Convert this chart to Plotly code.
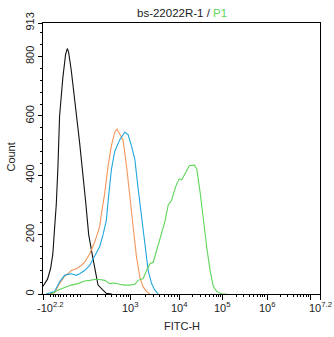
import numpy as np
import plotly.graph_objects as go

# ---- data (FITC-H intensity, event count) ----
black_x = [-158.5, -123.7, -100.5, -82.8, -69.6, -56.5, -44.1, -30.9, -5.4, 11.8, 21.8, 29.4, 45.3, 74.7, 94.1,
           130.3, 148.5, 174.5, 208, 264, 311, 402]
black_y = [26, 50, 85, 135, 220, 300, 420, 599, 730, 807, 827, 815, 752, 609, 509, 311, 200, 119, 30, 13, 2, 0]

orange_x = [-133.8, -69.6, -30.9, 5.9, 25.3, 45.3, 74.7, 104.2, 124.2, 154.5, 184.8, 200, 225.6, 244.8, 264.4,
            286.8, 335.9, 395, 463, 517, 569, 638, 691, 813, 953, 1116, 1313, 1535, 1798, 2114, 2473]
orange_y = [0, 4, 35, 60, 68, 79, 85, 96, 107, 135, 175, 200, 228, 270, 300, 340, 430, 500, 545, 556, 543, 526,
            518, 432, 322, 212, 123, 57, 24, 8, 0]

blue_x = [-133.8, -69.6, -30.9, 5.9, 25.3, 45.3, 58.8, 74.7, 94.1, 124.2, 154.5, 184.8, 225.6, 264.4, 311,
          335.9, 395, 463, 589.5, 749, 877, 1034, 1210, 1416, 1665, 1950, 2282, 2683, 3141, 3675]
blue_y = [0, 8, 41, 63, 66, 68, 66, 63, 68, 79, 96, 130, 160, 200, 250, 310, 420, 480, 520, 545, 537, 498, 454,
          355, 256, 156, 79, 35, 13, 0]

green_x = [-95.1, -44.1, 5.9, 45.3, 84.1, 124.2, 154.5, 184.8, 225.6, 286.8, 364.7, 463, 589.5, 749, 953, 1210,
           1416, 1798, 2114, 2473, 2897, 3403, 4324, 5063, 5919, 6962, 7770, 8834, 10000, 11357, 13523, 16997,
           22160, 25170, 29990, 35730, 42770, 50950, 60700, 72700, 94830, 123300]
green_y = [0, 13, 22, 30, 35, 44, 46, 49, 49, 46, 35, 37, 33, 30, 30, 33, 46, 52, 79, 102, 107, 146, 201, 245,
           300, 316, 344, 371, 388, 385, 405, 432, 434, 421, 344, 245, 156, 79, 24, 8, 0, 0]

series_names = ["Isotype", "Control", "Blue", "P1"]
series_colors = ["#111111", "#F4965A", "#22A6DC", "#5FD65A"]

x_major_vals = [-10 ** 2.2, 1e3, 1e4, 1e5, 1e6, 1e7, 10 ** 7.2]
x_major_text = ["-10<sup>2.2</sup>", "10<sup>3</sup>", "10<sup>4</sup>", "10<sup>5</sup>",
                "10<sup>6</sup>", "10<sup>7.2</sup>"]
x_label_vals = [-10 ** 2.2, 1e3, 1e4, 1e5, 1e6, 10 ** 7.2]
y_major = [0, 200, 400, 600, 800, 913]


# ---- biexponential-like display scale (linear near zero, log above) ----
def biex(v):
    v = np.asarray(v, dtype=float)
    lin_v = [-10 ** 2.2, 0, 100, 200]
    lin_f = [0.0, 0.0743, 0.1359, 0.1957]
    log_v = [np.log10(200), 3, 4, 5, 6, 7, 7.2]
    log_f = [0.1957, 0.3170, 0.4920, 0.6493, 0.8087, 0.9656, 1.0]
    lo = np.interp(v, lin_v, lin_f)
    hi = np.interp(np.log10(np.maximum(v, 200)), log_v, log_f)
    return np.where(v <= 200, lo, hi)


minor_vals = [-100, -80, -60, -40, -20, 0, 20, 40, 60, 80]
minor_vals += [m * 100 for m in range(1, 10)]
for k in range(3, 7):
    minor_vals += [m * 10 ** k for m in range(2, 10)]

fig = go.Figure()
for xs, ys, name, col in zip([black_x, orange_x, blue_x, green_x], [black_y, orange_y, blue_y, green_y],
                             series_names, series_colors):
    fig.add_trace(go.Scatter(x=biex(xs), y=ys, mode="lines", name=name,
                             line=dict(color=col, width=1.1), showlegend=False, hoverinfo="skip"))

font_family = "Arial, Liberation Sans, sans-serif"
fig.update_layout(
    width=334, height=337,
    margin=dict(l=43, r=14, t=18, b=43),
    paper_bgcolor="white", plot_bgcolor="white",
    font=dict(family=font_family, size=11, color="#222222"),
)
fig.update_xaxes(
    range=[0, 1], showgrid=False, zeroline=False,
    showline=True, linecolor="black", linewidth=1, mirror=True,
    ticks="outside", ticklen=5, tickcolor="black", tickwidth=1,
    tickmode="array", tickvals=biex(x_major_vals).tolist(), showticklabels=False,
    minor=dict(tickmode="array", tickvals=biex(minor_vals).tolist(), ticks="outside", ticklen=2,
               tickcolor="black", showgrid=False),
)
fig.update_yaxes(
    range=[0, 913], showgrid=False, zeroline=False,
    showline=True, linecolor="black", linewidth=1, mirror=True,
    ticks="outside", ticklen=4, tickcolor="black", tickwidth=1,
    tickmode="array", tickvals=y_major, ticktext=[str(v) for v in y_major], tickangle=-90,
    tickfont=dict(size=11, color="#222222"),
    minor=dict(tickmode="array", tickvals=[v for v in range(40, 913, 40) if v % 200 != 0],
               ticks="outside", ticklen=2, tickcolor="black", showgrid=False),
)

# x tick labels (superscript exponents)
for val, txt in zip(x_label_vals, x_major_text):
    xpos = float(biex(val))
    xshift = 7 if val < 0 else 0
    fig.add_annotation(x=xpos, y=0, xref="x", yref="paper", text=txt, showarrow=False,
                       yanchor="top", xanchor="center", yshift=-4, xshift=xshift,
                       font=dict(size=11, color="#222222"))

fig.add_annotation(x=0.5, y=-0.118, xref="paper", yref="paper", text="FITC-H", showarrow=False,
                   xanchor="center", yanchor="middle", font=dict(size=11, color="#222222"))
fig.add_annotation(x=-0.119, y=0.5036, xref="paper", yref="paper", text="Count", showarrow=False,
                   xanchor="center", yanchor="middle", textangle=-90, font=dict(size=11, color="#222222"))
fig.add_annotation(x=0.5, y=1.038, xref="paper", yref="paper",
                   text="bs-22022R-1 / <span style='color:#5FD65A'>P1</span>", showarrow=False,
                   xanchor="center", yanchor="middle", font=dict(size=11.5, color="#222222"))

fig.write_html("out.html")
